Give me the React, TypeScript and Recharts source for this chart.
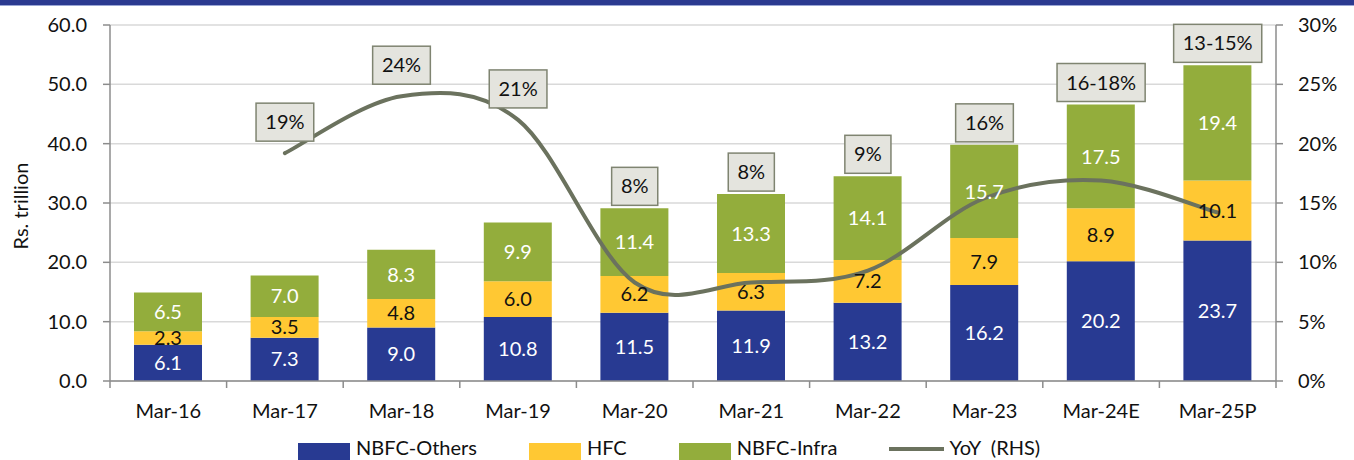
import React from 'react';
import { ComposedChart, Bar, Line, XAxis, YAxis, CartesianGrid, LabelList, Label } from 'recharts';

const categories = ['Mar-16', 'Mar-17', 'Mar-18', 'Mar-19', 'Mar-20', 'Mar-21', 'Mar-22', 'Mar-23', 'Mar-24E', 'Mar-25P'];
const nbfcOthers = [6.1, 7.3, 9.0, 10.8, 11.5, 11.9, 13.2, 16.2, 20.2, 23.7];
const hfc = [2.3, 3.5, 4.8, 6.0, 6.2, 6.3, 7.2, 7.9, 8.9, 10.1];
const nbfcInfra = [6.5, 7.0, 8.3, 9.9, 11.4, 13.3, 14.1, 15.7, 17.5, 19.4];
const yoy: (number | null)[] = [null, 19.2, 24.0, 22.0, 8.3, 8.3, 9.3, 15.4, 16.9, 14.2];
const yoyLabels = ['', '19%', '24%', '21%', '8%', '8%', '9%', '16%', '16-18%', '13-15%'];
const leftTicks = [0, 10, 20, 30, 40, 50, 60];
const rightTicks = [0, 5, 10, 15, 20, 25, 30];

const COLORS = { others: '#283A92', hfc: '#FFC833', infra: '#93AD3C', line: '#6B725E' };
const FONT = 'Lato, "Open Sans", sans-serif';

const W = 1354;
const H = 460;
const MARGIN = { top: 25, right: 0, bottom: 0, left: 0 };
const LEFT_W = 110;
const RIGHT_W = 78;
const XAXIS_H = 79;
const PLOT_TOP = MARGIN.top;
const PLOT_H = H - MARGIN.top - MARGIN.bottom - XAXIS_H;
const PLOT_W = W - LEFT_W - RIGHT_W;
const BAND = PLOT_W / categories.length;
const LEFT_MAX = 60;
const AXIS_COLOR = '#8C8C8C';

const data = categories.map((c, i) => ({
  name: c,
  others: nbfcOthers[i],
  hfc: hfc[i],
  infra: nbfcInfra[i],
  yoy: yoy[i],
}));

const excelSmooth = (context: any) => {
  let pts: number[][] = [];
  return {
    areaStart() {},
    areaEnd() {},
    lineStart() {
      pts = [];
    },
    lineEnd() {
      const n = pts.length;
      if (!n) return;
      context.moveTo(pts[0][0], pts[0][1]);
      for (let i = 0; i < n - 1; i++) {
        const p0 = pts[i - 1] || pts[i];
        const p1 = pts[i];
        const p2 = pts[i + 1];
        const p3 = pts[i + 2] || p2;
        context.bezierCurveTo(
          p1[0] + (p2[0] - p0[0]) / 6,
          p1[1] + (p2[1] - p0[1]) / 6,
          p2[0] - (p3[0] - p1[0]) / 6,
          p2[1] - (p3[1] - p1[1]) / 6,
          p2[0],
          p2[1]
        );
      }
    },
    point(x: number, y: number) {
      pts.push([+x, +y]);
    },
  };
};

const charW = (ch: string) => (ch === '%' ? 16.5 : ch === '-' ? 7.2 : 11.6);
const textWidth = (s: string) => s.split('').reduce((a, c) => a + charW(c), 0);

const XTick = (props: any) => {
  const { x, y, payload, index } = props;
  return (
    <g>
      <line x1={x - BAND / 2} x2={x - BAND / 2} y1={y} y2={y + 7} stroke={AXIS_COLOR} strokeWidth={1.5} />
      {index === categories.length - 1 && (
        <line x1={x + BAND / 2} x2={x + BAND / 2} y1={y} y2={y + 7} stroke={AXIS_COLOR} strokeWidth={1.5} />
      )}
      <text x={x} y={y + 37} textAnchor="middle" fill="#111" fontSize={20} fontFamily={FONT}>
        {payload.value}
      </text>
    </g>
  );
};

const YoyBox = (props: any) => {
  const { index } = props;
  const text = yoyLabels[index];
  if (!text) return null;
  const vb = props.viewBox || {};
  const cx = props.x ?? vb.x;
  const ly = props.y ?? vb.y;
  if (cx == null || ly == null) return null;
  const total = nbfcOthers[index] + hfc[index] + nbfcInfra[index];
  const barTop = PLOT_TOP + PLOT_H * (1 - total / LEFT_MAX);
  const bottom = Math.min(barTop - 3, ly - 12);
  const w = textWidth(text) + 18;
  const h = 38;
  return (
    <g>
      <rect x={cx - w / 2} y={bottom - h} width={w} height={h} fill="#E4E4DE" stroke="#7F8471" strokeWidth={1.5} />
      <text x={cx} y={bottom - h / 2 + 7} textAnchor="middle" fill="#111" fontSize={20} fontFamily={FONT}>
        {text}
      </text>
    </g>
  );
};

const legendItems = [
  { label: 'NBFC-Others', color: COLORS.others, kind: 'rect' },
  { label: 'HFC', color: COLORS.hfc, kind: 'rect' },
  { label: 'NBFC-Infra', color: COLORS.infra, kind: 'rect' },
  { label: 'YoY  (RHS)', color: COLORS.line, kind: 'line' },
];

export default function App() {
  return (
    <div style={{ position: 'absolute', left: 0, top: 0, width: W, height: H, background: '#fff', overflow: 'hidden', fontFamily: FONT }}>
      <div style={{ position: 'absolute', left: 0, top: 0, width: W, height: 5, background: '#2B3A90', borderBottom: '1px solid #9AA6D4' }} />
      <ComposedChart width={W} height={H} data={data} margin={MARGIN} barCategoryGap={0}>
        <CartesianGrid yAxisId="left" vertical={false} stroke="#D9D9D9" strokeWidth={1.5} />
        <XAxis
          dataKey="name"
          height={XAXIS_H}
          tickSize={0}
          tickMargin={0}
          tickLine={false}
          axisLine={{ stroke: AXIS_COLOR, strokeWidth: 1.5 }}
          tick={<XTick />}
          interval={0}
        />
        <YAxis
          yAxisId="left"
          width={LEFT_W}
          domain={[0, LEFT_MAX]}
          ticks={leftTicks}
          interval={0}
          tickFormatter={(v: number) => v.toFixed(1)}
          tickSize={7}
          tickMargin={16}
          tickLine={{ stroke: AXIS_COLOR, strokeWidth: 1.5 }}
          axisLine={{ stroke: AXIS_COLOR, strokeWidth: 1.5 }}
          tick={{ fill: '#111', fontSize: 20, fontFamily: FONT }}
        >
          <Label
            content={() => (
              <text transform="translate(20,206) rotate(-90)" textAnchor="middle" dominantBaseline="central" fill="#111" fontSize={20} fontFamily={FONT}>
                Rs. trillion
              </text>
            )}
          />
        </YAxis>
        <YAxis
          yAxisId="right"
          orientation="right"
          width={RIGHT_W}
          domain={[0, 30]}
          ticks={rightTicks}
          interval={0}
          tickFormatter={(v: number) => `${v}%`}
          tickSize={7}
          tickMargin={15}
          tickLine={{ stroke: AXIS_COLOR, strokeWidth: 1.5 }}
          axisLine={{ stroke: AXIS_COLOR, strokeWidth: 1.5 }}
          tick={{ fill: '#111', fontSize: 20, fontFamily: FONT, textAnchor: 'start' }}
        />
        <Bar yAxisId="left" dataKey="others" stackId="a" fill={COLORS.others} barSize={68} isAnimationActive={false}>
          <LabelList dataKey="others" position="center" fill="#fff" fontSize={20} fontFamily={FONT} formatter={(v: any) => Number(v).toFixed(1)} />
        </Bar>
        <Bar yAxisId="left" dataKey="hfc" stackId="a" fill={COLORS.hfc} barSize={68} isAnimationActive={false}>
          <LabelList dataKey="hfc" position="center" fill="#111" fontSize={20} fontFamily={FONT} formatter={(v: any) => Number(v).toFixed(1)} />
        </Bar>
        <Bar yAxisId="left" dataKey="infra" stackId="a" fill={COLORS.infra} barSize={68} isAnimationActive={false}>
          <LabelList dataKey="infra" position="center" fill="#fff" fontSize={20} fontFamily={FONT} formatter={(v: any) => Number(v).toFixed(1)} />
        </Bar>
        <Line
          yAxisId="right"
          dataKey="yoy"
          type={excelSmooth as any}
          stroke={COLORS.line}
          strokeWidth={4}
          strokeLinecap="round"
          dot={false}
          activeDot={false}
          isAnimationActive={false}
        >
          <LabelList dataKey="yoy" content={<YoyBox />} />
        </Line>
      </ComposedChart>
      <div style={{ position: 'absolute', left: 298, top: 437, display: 'flex', alignItems: 'flex-start', fontSize: 20, lineHeight: '20px', color: '#111', whiteSpace: 'pre' }}>
        {legendItems.map((it, i) => (
          <div key={it.label} style={{ display: 'flex', alignItems: 'flex-start', marginRight: i < legendItems.length - 1 ? 52 : 0 }}>
            {it.kind === 'rect' ? (
              <div style={{ width: 52, height: 17, marginTop: 6, background: it.color, marginRight: 6 }} />
            ) : (
              <div style={{ width: 55, height: 4, marginTop: 10, background: it.color, marginRight: 5 }} />
            )}
            <span>{it.label}</span>
          </div>
        ))}
      </div>
    </div>
  );
}
